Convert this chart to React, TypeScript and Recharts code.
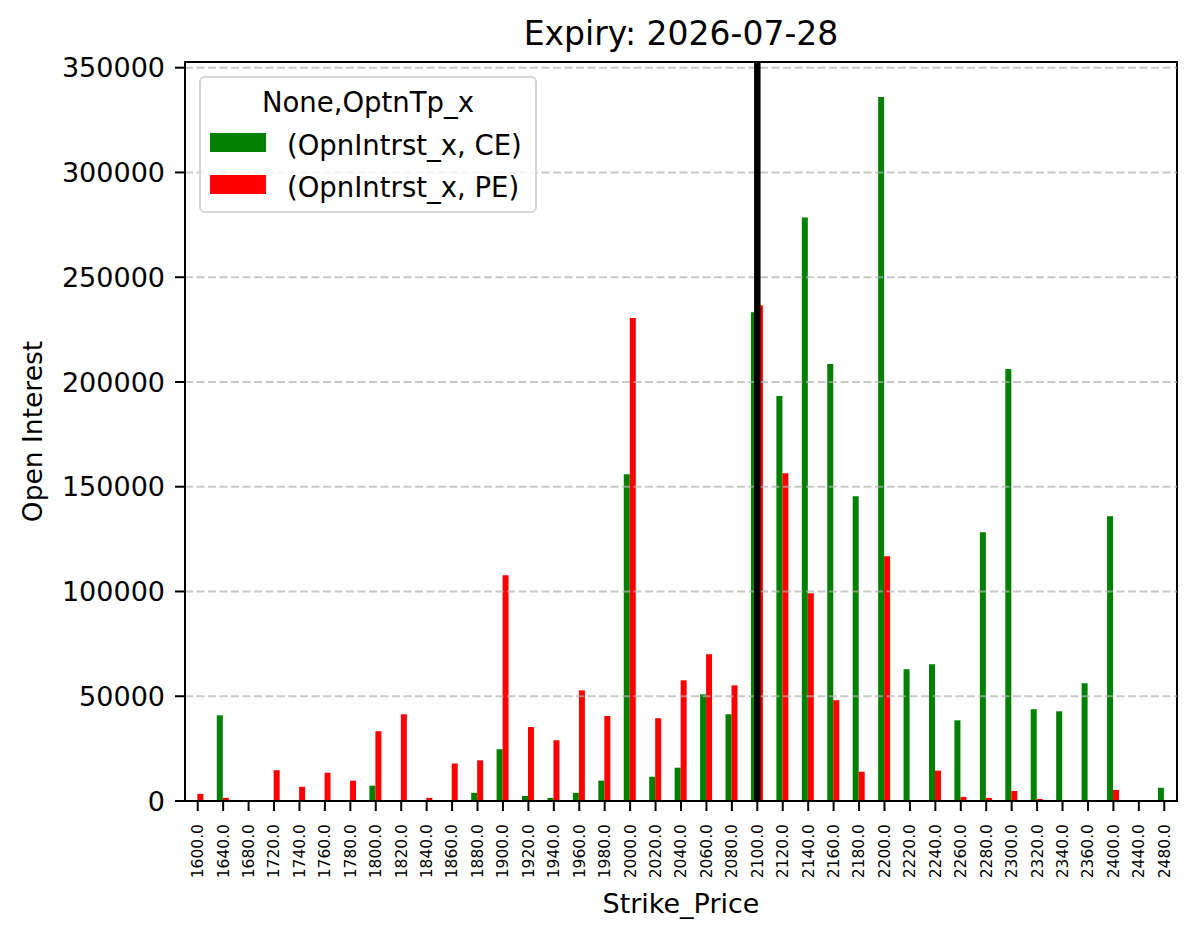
import { BarChart, Bar, XAxis, YAxis, ReferenceLine, ReferenceArea } from "recharts";

const strikes = [
  "1600.0", "1640.0", "1680.0", "1720.0", "1740.0", "1760.0", "1780.0", "1800.0",
  "1820.0", "1840.0", "1860.0", "1880.0", "1900.0", "1920.0", "1940.0", "1960.0",
  "1980.0", "2000.0", "2020.0", "2040.0", "2060.0", "2080.0", "2100.0", "2120.0",
  "2140.0", "2160.0", "2180.0", "2200.0", "2220.0", "2240.0", "2260.0", "2280.0",
  "2300.0", "2320.0", "2340.0", "2360.0", "2400.0", "2440.0", "2480.0",
];

const ceOI = [
  0, 40900, 0, 0, 0, 0, 0, 7300,
  0, 0, 0, 3900, 24700, 2400, 1500, 3900,
  9700, 155900, 11600, 15900, 50900, 41400, 233300, 193300,
  278500, 208600, 145400, 336000, 62900, 65300, 38500, 128300,
  206200, 43800, 42800, 56200, 135900, 0, 6300,
];

const peOI = [
  3400, 1500, 0, 14700, 6800, 13500, 9700, 33300,
  41400, 1500, 17900, 19400, 107700, 35300, 29000, 52800,
  40600, 230500, 39500, 57600, 70000, 55200, 236600, 156400,
  99200, 48100, 14000, 116800, 0, 14500, 1900, 1500,
  4800, 1000, 0, 0, 5300, 0, 0,
];

const yTicks = [0, 50000, 100000, 150000, 200000, 250000, 300000, 350000];
const yMax = 352720;
const spotStrike = "2100.0";

const series = [
  { key: "ce", name: "(OpnIntrst_x, CE)", color: "#008000" },
  { key: "pe", name: "(OpnIntrst_x, PE)", color: "#ff0000" },
];

const data = strikes.map((s, i) => ({ strike: s, ce: ceOI[i], pe: peOI[i] }));

const FONT = "DejaVu Sans, sans-serif";

function XTick({ x, y, payload }: any) {
  return (
    <text
      x={x}
      y={y}
      transform={`rotate(-90, ${x}, ${y})`}
      textAnchor="end"
      dy="0.35em"
      fontSize={15.5}
      fontFamily={FONT}
      fill="#000"
    >
      {payload.value}
    </text>
  );
}

function LegendBox() {
  return (
    <div
      style={{
        position: "absolute",
        left: 199,
        top: 76,
        width: 338,
        height: 137,
        boxSizing: "border-box",
        border: "2px solid #d6d6d6",
        borderRadius: 6,
        background: "rgba(255,255,255,0.8)",
        fontFamily: FONT,
        fontSize: 27.5,
        lineHeight: "27px",
        color: "#000",
      }}
    >
      <div style={{ position: "absolute", left: 0, right: 0, top: 11, textAlign: "center" }}>
        None,OptnTp_x
      </div>
      {series.map((s, i) => (
        <div key={s.key}>
          <div
            style={{
              position: "absolute",
              left: 9,
              top: 55 + i * 42,
              width: 56,
              height: 19,
              background: s.color,
            }}
          />
          <div style={{ position: "absolute", left: 86, top: 54 + i * 42, whiteSpace: "nowrap" }}>
            {s.name}
          </div>
        </div>
      ))}
    </div>
  );
}

export default function App() {
  return (
    <div style={{ position: "absolute", left: 0, top: 0, width: 1197, height: 939, background: "#fff" }}>
      <BarChart
        width={1197}
        height={939}
        data={data}
        margin={{ top: 62, right: 20, bottom: 0, left: 0 }}
        barCategoryGap="25%"
        barGap={0}
      >
        <XAxis
          dataKey="strike"
          type="category"
          interval={0}
          height={138}
          tickSize={10}
          tickMargin={13}
          tick={XTick}
          tickLine={{ stroke: "#000", strokeWidth: 2 }}
          axisLine={{ stroke: "#000", strokeWidth: 2 }}
          label={{
            value: "Strike_Price",
            position: "insideBottom",
            offset: 26,
            style: { fontSize: 27, fontFamily: FONT, fill: "#000" },
          }}
        />
        <YAxis
          width={185}
          domain={[0, yMax]}
          ticks={yTicks}
          interval={0}
          allowDataOverflow
          tickSize={10}
          tickMargin={10}
          tick={{ fontSize: 27, fontFamily: FONT, fill: "#000" }}
          tickLine={{ stroke: "#000", strokeWidth: 2 }}
          axisLine={{ stroke: "#000", strokeWidth: 2 }}
          label={{
            value: "Open Interest",
            angle: -90,
            position: "center",
            dx: -60,
            style: { fontSize: 26.5, fontFamily: FONT, fill: "#000", textAnchor: "middle" },
          }}
        />
        {series.map((s) => (
          <Bar key={s.key} dataKey={s.key} name={s.name} fill={s.color} isAnimationActive={false} />
        ))}
        {yTicks
          .filter((t) => t > 0)
          .map((t) => (
            <ReferenceLine
              key={t}
              y={t}
              stroke="#b0b0b0"
              strokeOpacity={0.7}
              strokeWidth={2}
              strokeDasharray="8 3.5"
            />
          ))}
        <ReferenceLine x={spotStrike} stroke="#000" strokeWidth={6.5} />
        {/* axes frame + title */}
        <ReferenceArea
          y1={0}
          y2={yMax}
          fill="none"
          fillOpacity={0}
          stroke="#000"
          strokeWidth={2}
          ifOverflow="visible"
          label={{
            value: "Expiry: 2026-07-28",
            position: "top",
            offset: 17,
            style: { fontSize: 33, fontFamily: FONT, fill: "#000" },
          }}
        />
      </BarChart>
      <LegendBox />
    </div>
  );
}
